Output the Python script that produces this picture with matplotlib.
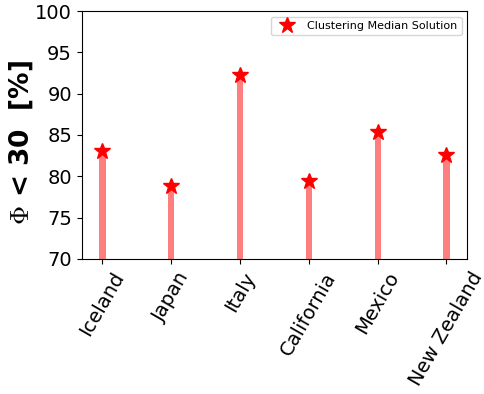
import numpy as np
import matplotlib
matplotlib.use('Agg')
import matplotlib.pyplot as plt

regions = ['Iceland', 'Japan', 'Italy', 'California', 'Mexico', 'New Zealand']
median_vals = [83.1, 78.8, 92.2, 79.4, 85.3, 82.6]

x = np.arange(len(regions))

plt.rcParams['mathtext.fontset'] = 'cm'

fig = plt.figure(figsize=(4.84, 3.94), dpi=100)
ax = fig.add_axes([0.169, 0.343, 0.796, 0.629])

ax.bar(x, median_vals, width=0.09, color='red', alpha=0.5)
ax.plot(x, median_vals, '*', color='red', markersize=12, label='Clustering Median Solution')

ax.set_ylim(70, 100)
ax.set_yticks(np.arange(70, 101, 5))
ax.set_xlim(-0.3, 5.3)
ax.set_xticks(x)
ax.set_xticklabels(regions, rotation=60, fontsize=14)
ax.tick_params(axis='y', labelsize=14)
ax.set_ylabel(r'$\Phi$ < 30  [%]', fontsize=19, fontweight='bold')
ax.yaxis.set_label_coords(-0.122, 0.47)
ax.legend(loc='upper right', fontsize=8)

fig.savefig('out.png', dpi=100)
